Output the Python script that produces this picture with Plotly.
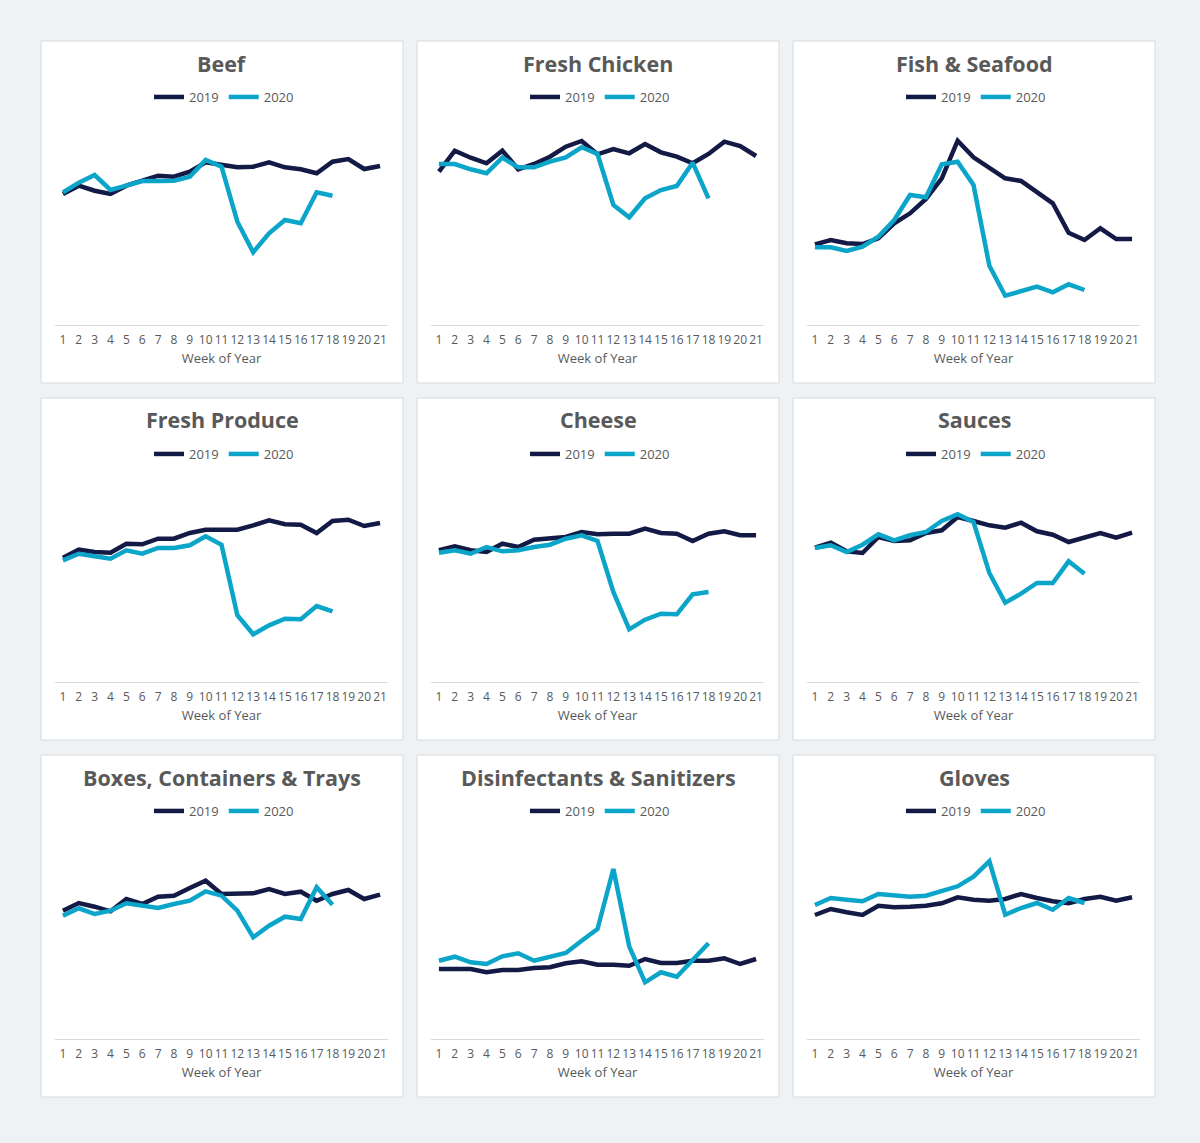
import plotly.graph_objects as go

weeks = list(range(1, 22))
week_labels = [str(w) for w in weeks]
weeks_2020 = list(range(1, 19))

titles = ["Beef", "Fresh Chicken", "Fish & Seafood",
          "Fresh Produce", "Cheese", "Sauces",
          "Boxes, Containers & Trays", "Disinfectants & Sanitizers", "Gloves"]

beef_2019 = [131, 139.3, 134.3, 131, 139.3, 144.3, 149.3, 148.3, 153.3, 162.7, 160, 157.7, 158.3, 162.7, 157.7, 155.7, 151.7, 163.3, 166, 156, 159]
beef_2020 = [132.7, 142.3, 150, 135, 139.3, 144, 144, 144.3, 148.3, 165, 158.3, 103.3, 72.7, 91.7, 105, 101.7, 132.7, 129.3]

chicken_2019 = [153.3, 174.3, 167.3, 161.7, 174.3, 155.7, 161, 168.3, 178.3, 184, 170.7, 176, 171.7, 181, 172.7, 168.3, 161.7, 171, 183.3, 179, 169]
chicken_2020 = [161, 161, 155.7, 151.7, 167.3, 157.7, 157.7, 163.3, 167.7, 177.7, 171, 120, 107.7, 126.7, 135, 139, 162.3, 126.7]

fish_2019 = [80.7, 85, 81.7, 81, 86.7, 101.7, 111.7, 126, 146.7, 184.3, 167.7, 157.7, 146.7, 144, 133.3, 121.7, 92.3, 85, 96.7, 86, 86]
fish_2020 = [77.7, 77.7, 74, 78.3, 88.3, 105, 130, 127.7, 160.7, 163.3, 140, 59.3, 29.3, 34.3, 38.3, 32.7, 40.7, 35]

produce_2019 = [124.3, 132.3, 130, 129.3, 138.3, 137.7, 143.3, 143.3, 149, 152.3, 152.3, 152.3, 156.7, 161.7, 157.7, 157.3, 149, 161, 162.3, 156, 159]
produce_2020 = [121.7, 128.3, 125.7, 123.3, 131.7, 128.3, 134, 134, 136.7, 145.7, 137.3, 66.7, 47.7, 56.7, 63.3, 62.7, 76, 70.7]

cheese_2019 = [131.7, 135.7, 131.7, 130, 138.3, 135, 142.3, 143.3, 145, 150, 147.7, 148.3, 148.3, 153.3, 149, 148.3, 141, 148.3, 150.7, 146.7, 146.7]
cheese_2020 = [129.3, 131.7, 128.3, 135, 130.7, 131.7, 135, 137.3, 143.3, 146.7, 141, 90, 52.7, 62.3, 68.3, 67.7, 87.7, 90]

sauces_2019 = [134.3, 139.3, 130.7, 129, 145, 141, 141.7, 149, 151.7, 165, 161, 156.7, 154.3, 159.3, 150.7, 147.3, 140, 144.3, 149, 144.3, 149.3]
sauces_2020 = [134, 136.7, 130, 137.3, 147.7, 141.7, 146.7, 150, 161, 167.7, 160, 109, 79.3, 88.3, 99, 99, 120.7, 108.3]

boxes_2019 = [128.3, 136, 132.3, 127.7, 140, 135, 142.3, 143.3, 151, 158.3, 145, 145.7, 145.7, 150, 145, 147.3, 138.3, 145, 149, 140, 144.3]
boxes_2020 = [123.3, 130.7, 125, 128.3, 135.7, 133.3, 131, 135, 138.3, 147.7, 143.3, 128.3, 101.7, 113.3, 122.3, 120, 151.7, 134.3]

disinf_2019 = [70, 70, 70, 66.7, 69, 69, 71, 71.7, 75.7, 77.7, 74.3, 74.3, 73.3, 80, 76, 76, 78.3, 78.3, 80.7, 75, 80]
disinf_2020 = [78.3, 82.3, 76.7, 75, 82.7, 85.7, 78.3, 81.7, 86, 98.3, 110, 170, 92.7, 56.7, 66.7, 62.3, 79.3, 95.7]

gloves_2019 = [124, 130, 126.7, 124, 133.3, 131.7, 132.3, 133.3, 135.7, 141.7, 139.3, 138.3, 140, 145, 141, 137.7, 135.7, 140, 142.3, 138.3, 141.7]
gloves_2020 = [134, 141, 139.3, 137.7, 145, 144, 142.3, 143.3, 148.3, 152.7, 162.3, 177.7, 124.3, 131, 136, 129.3, 141, 136]

series_2019 = [beef_2019, chicken_2019, fish_2019, produce_2019, cheese_2019,
               sauces_2019, boxes_2019, disinf_2019, gloves_2019]
series_2020 = [beef_2020, chicken_2020, fish_2020, produce_2020, cheese_2020,
               sauces_2020, boxes_2020, disinf_2020, gloves_2020]

# ---- styling / layout ----
W, H = 1200, 1143
C2019 = "#141A46"
C2020 = "#0BA5C9"
TXT = "#595959"
FONT = "Open Sans"

col_left = [41, 417, 793]
row_top = [41, 398, 755]
PW, PH = 362, 342


def px_x(x):
    return x / W


def px_y(y):
    return 1 - y / H


fig = go.Figure()
layout = dict(
    width=W, height=H,
    margin=dict(l=0, r=0, t=0, b=0),
    paper_bgcolor="#EEF2F5",
    plot_bgcolor="rgba(0,0,0,0)",
    showlegend=True,
    shapes=[], annotations=[],
)

for i, title in enumerate(titles):
    r, c = divmod(i, 3)
    L, T = col_left[c], row_top[r]
    n = i + 1
    xa = "x" if n == 1 else f"x{n}"
    ya = "y" if n == 1 else f"y{n}"
    lg = "legend" if n == 1 else f"legend{n}"

    # panel card
    layout["shapes"].append(dict(
        type="rect", xref="paper", yref="paper",
        x0=px_x(L), x1=px_x(L + PW), y0=px_y(T + PH), y1=px_y(T),
        fillcolor="white", line=dict(color="#D9D9D9", width=1), layer="below"))

    # axis domains
    x0, x1 = L + 14, L + 347
    yb, yt = T + 284, T + 284 - 210
    layout[f"xaxis{'' if n == 1 else n}"] = dict(
        domain=[px_x(x0), px_x(x1)], anchor=ya,
        range=[0.5, 21.5], tickvals=weeks, ticktext=week_labels,
        tickangle=0, ticklabelstandoff=4,
        showline=True, linecolor="#D9D9D9", linewidth=1,
        showgrid=False, zeroline=False, ticks="",
        tickfont=dict(family=FONT, size=12, color=TXT),
        title=dict(text="Week of Year", font=dict(family=FONT, size=13, color=TXT), standoff=6),
        fixedrange=True,
    )
    layout[f"yaxis{'' if n == 1 else n}"] = dict(
        domain=[px_y(yb), px_y(yt)], anchor=xa,
        range=[0, 210], visible=False, showgrid=False, zeroline=False,
        fixedrange=True,
    )

    # title
    layout["annotations"].append(dict(
        xref="paper", yref="paper", x=px_x(L + PW / 2), y=px_y(T + 22),
        text=f"<b>{title}</b>", showarrow=False, xanchor="center", yanchor="middle",
        font=dict(family=FONT, size=21.5, color=TXT)))

    # legend
    layout[lg] = dict(
        orientation="h", x=px_x(L + PW / 2 + 2), xanchor="center",
        y=px_y(T + 56), yanchor="middle",
        bgcolor="rgba(0,0,0,0)", font=dict(family=FONT, size=13, color=TXT),
        itemwidth=30, tracegroupgap=0,
    )

    fig.add_trace(go.Scatter(
        x=weeks, y=series_2019[i], mode="lines", name="2019",
        line=dict(color=C2019, width=4.5), xaxis=xa, yaxis=ya, legend=lg))
    fig.add_trace(go.Scatter(
        x=weeks_2020, y=series_2020[i], mode="lines", name="2020",
        line=dict(color=C2020, width=4.5), xaxis=xa, yaxis=ya, legend=lg))

fig.update_layout(**layout)
fig.write_html("out.html", config={"displayModeBar": False},
               post_script="document.body.style.margin='0';document.body.style.background='#EEF2F5';")
